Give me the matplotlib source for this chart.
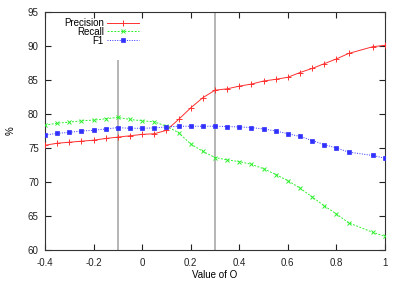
import matplotlib
matplotlib.use("Agg")
import matplotlib.pyplot as plt

x_values = [-0.4, -0.35, -0.3, -0.25, -0.2, -0.15, -0.1, -0.05, 0.0, 0.05, 0.1, 0.15,
            0.2, 0.25, 0.3, 0.35, 0.4, 0.45, 0.5, 0.55, 0.6, 0.65, 0.7, 0.75, 0.8, 0.85,
            0.95, 1.0]
precision = [75.4, 75.7, 75.85, 76.0, 76.15, 76.4, 76.6, 76.8, 77.0, 77.1, 77.6, 79.2,
             80.9, 82.4, 83.5, 83.7, 84.1, 84.4, 84.85, 85.1, 85.4, 86.1, 86.7, 87.4,
             88.1, 88.9, 89.9, 90.1]
recall = [78.35, 78.65, 78.8, 79.0, 79.1, 79.3, 79.5, 79.2, 79.0, 78.85, 78.2, 77.25,
          75.6, 74.5, 73.6, 73.25, 73.0, 72.6, 71.95, 71.1, 70.2, 69.1, 67.8, 66.5,
          65.3, 64.0, 62.6, 62.0]
f1 = [76.9, 77.15, 77.3, 77.5, 77.6, 77.8, 78.0, 77.9, 77.9, 77.95, 78.1, 78.2,
      78.2, 78.2, 78.2, 78.15, 78.1, 78.0, 77.8, 77.5, 77.1, 76.7, 76.1, 75.5,
      75.0, 74.4, 73.9, 73.5]
marker_lines_x = [-0.1, 0.3]
marker_lines_top = [88, 95]

xticks = [-0.4, -0.2, 0, 0.2, 0.4, 0.6, 0.8, 1.0]
xtick_labels = ["-0.4", "-0.2", "0", "0.2", "0.4", "0.6", "0.8", "1"]
yticks = [60, 65, 70, 75, 80, 85, 90, 95]

plt.rcParams['font.family'] = ['Liberation Sans', 'DejaVu Sans']
fig = plt.figure(figsize=(4.02, 2.81), dpi=100)
ax = fig.add_axes([45/402, 1-250/281, 340/402, 238/281])

for xv, top in zip(marker_lines_x, marker_lines_top):
    ax.vlines(xv, 60, top, color='#b0b0b0', linewidth=1.3, zorder=1)

ax.plot(x_values, precision, color='#ff3030', linestyle='-', linewidth=0.7,
        marker='+', markersize=4, markeredgewidth=0.7, label='Precision', zorder=3)
ax.plot(x_values, recall, color='#30f030', linestyle=(0, (2, 1.5)), linewidth=0.7,
        marker='x', markersize=3.5, markeredgewidth=0.7, label='Recall', zorder=3)
ax.plot(x_values, f1, color='#3030ff', linestyle=(0, (1, 1.5)), linewidth=0.7,
        marker='s', markersize=2.8, markeredgewidth=0.5, markerfacecolor='#3030ff',
        label='F1', zorder=3)

ax.set_xlim(-0.4, 1.0)
ax.set_ylim(60, 95)
ax.set_xticks(xticks)
ax.set_xticklabels(xtick_labels)
ax.set_yticks(yticks)
ax.tick_params(direction='in', length=4, width=0.8, top=True, right=True,
               labelsize=7, colors='#222222')
ax.tick_params(axis='x', pad=5.5)
ax.tick_params(axis='y', pad=4.5)
for s in ax.spines.values():
    s.set_linewidth(0.8)
    s.set_color('#333333')

ax.set_xlabel('Value of O', fontsize=7, labelpad=1.5)
ax.set_ylabel('%', fontsize=7, labelpad=9)

leg = ax.legend(loc='upper right', bbox_to_anchor=(0.277, 0.975), frameon=False,
                markerfirst=False, fontsize=7, handlelength=3.3, handletextpad=0.35,
                labelspacing=-0.12, borderpad=0.0, borderaxespad=0)

fig.savefig('out.png', dpi=100)
